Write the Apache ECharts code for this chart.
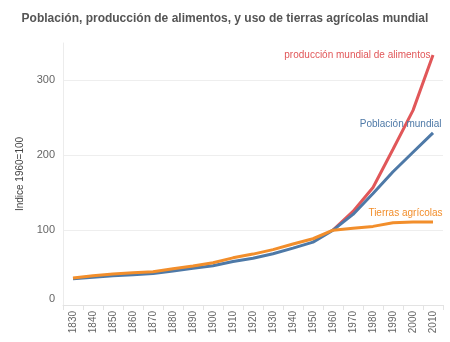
<!DOCTYPE html>
<html>
<head>
<meta charset="utf-8">
<script src="https://cdn.jsdelivr.net/npm/echarts@6/dist/echarts.min.js"></script>
<style>
html,body{margin:0;padding:0;background:#fff;}
#chart{width:450px;height:342px;}
</style>
</head>
<body>
<div id="chart"></div>
<script>
var years = ['1830','1840','1850','1860','1870','1880','1890','1900','1910','1920','1930','1940','1950','1960','1970','1980','1990','2000','2010'];
var poblacion = [35, 37, 39, 40.5, 42, 45.5, 49, 52.5, 58, 62.5, 68.5, 76, 84, 100, 121, 149, 178, 204, 230];
var tierras = [36, 39, 41.3, 43, 44.5, 48.5, 52, 56.5, 63, 68, 74, 81.5, 88.5, 100, 102.5, 105, 110, 111, 111];
var alimentos = [null, null, null, null, null, null, null, null, null, null, null, null, null, 100, 125, 157, 208, 260, 334];
var seriesNames = ['producción mundial de alimentos', 'Población mundial', 'Tierras agrícolas'];
var yTicks = [0, 100, 200, 300];

var colors = ['#E15759', '#4E79A7', '#F28E2B'];
var FONT = 'Liberation Sans, Arial, sans-serif';

function endMark(arr, name, color, pos, dist) {
  var last = arr.length - 1;
  return {
    symbol: 'circle', symbolSize: 1, silent: true,
    itemStyle: { color: 'rgba(0,0,0,0)' },
    label: { show: true, formatter: name, position: pos, distance: dist, align: 'right', verticalAlign: 'middle', color: color, fontSize: 10, fontFamily: FONT },
    data: [{ coord: [years[last], arr[last]] }]
  };
}

function lineSeries(idx, arr, pos, dist) {
  return {
    name: seriesNames[idx], type: 'line', data: arr,
    showSymbol: false, symbol: 'none',
    lineStyle: { width: 3, color: colors[idx] }, itemStyle: { color: colors[idx] },
    markPoint: endMark(arr, seriesNames[idx], colors[idx], pos, dist)
  };
}

var chart = echarts.init(document.getElementById('chart'), null, { renderer: 'canvas' });
chart.setOption({
  animation: false,
  title: {
    text: 'Población, producción de alimentos, y uso de tierras agrícolas mundial',
    left: 'center', top: 8,
    textStyle: { fontSize: 12, fontWeight: 'bold', color: '#555', fontFamily: FONT }
  },
  grid: { left: 63, right: 7, top: 43, bottom: 37, containLabel: false },
  xAxis: {
    type: 'category', data: years, boundaryGap: true,
    axisLine: { show: true, lineStyle: { color: '#e3e3e3' } },
    axisTick: { show: true, length: 5, lineStyle: { color: '#e3e3e3' } },
    axisLabel: { rotate: 90, fontSize: 10, color: '#666', margin: 6, interval: 0, fontFamily: FONT },
    splitLine: { show: false }
  },
  yAxis: {
    type: 'value', min: 0, max: 350, interval: 100,
    name: 'Indice 1960=100', nameLocation: 'middle', nameGap: 38,
    nameTextStyle: { fontSize: 10, color: '#444', fontFamily: FONT },
    axisLine: { show: true, lineStyle: { color: '#ececec' } },
    axisTick: { show: false },
    axisLabel: {
      fontSize: 11, color: '#666', margin: 8, fontFamily: FONT,
      formatter: function (v) {
        if (yTicks.indexOf(v) < 0) return '';
        return v === 0 ? '{z|0}' : String(v);
      },
      rich: { z: { fontSize: 11, color: '#666', padding: [0, 0, 12, 0] } }
    },
    splitLine: { show: true, lineStyle: { color: ['#eeeeee', '#eeeeee', '#eeeeee', '#eeeeee', 'rgba(0,0,0,0)'] } }
  },
  series: [
    lineSeries(0, alimentos, [-2, 1], 0),
    lineSeries(1, poblacion, [9, -8], 0),
    lineSeries(2, tierras, [10, -8], 0)
  ]
});
</script>
</body>
</html>
